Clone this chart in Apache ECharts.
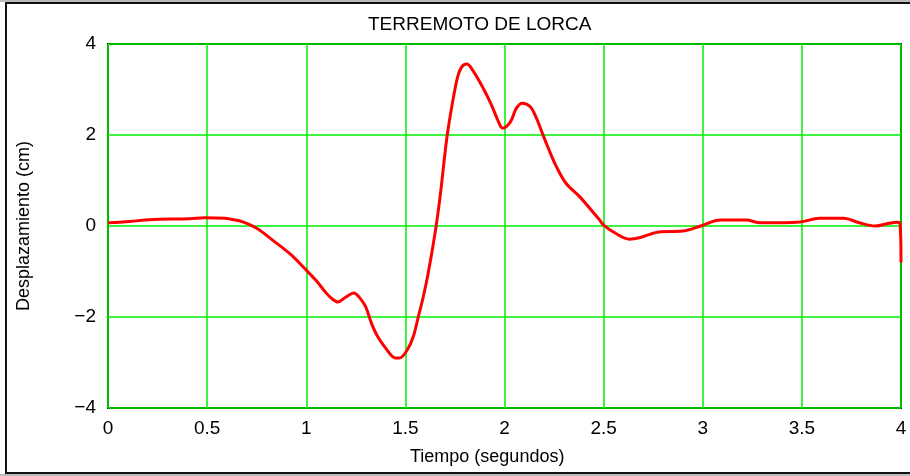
<!DOCTYPE html>
<html><head><meta charset="utf-8">
<script src="https://cdn.jsdelivr.net/npm/echarts@6/dist/echarts.min.js"></script>
<style>html,body{margin:0;padding:0;background:#fff}#c{width:910px;height:476px}</style>
</head><body><div id="c"></div>
<script>
const titleText = 'TERREMOTO DE LORCA';
const xName = 'Tiempo (segundos)';
const yName = 'Desplazamiento (cm)';
const timeS = [0.00,0.11,0.21,0.41,0.49,0.59,0.62,0.68,0.75,0.83,0.92,1.00,1.05,1.10,1.13,1.16,1.20,1.24,1.27,1.30,1.33,1.36,1.40,1.45,1.47,1.51,1.54,1.565,1.59,1.615,1.65,1.675,1.71,1.74,1.765,1.785,1.81,1.84,1.89,1.93,1.97,1.99,2.03,2.06,2.09,2.13,2.16,2.19,2.22,2.26,2.31,2.38,2.48,2.50,2.56,2.63,2.68,2.78,2.90,2.99,3.09,3.22,3.29,3.49,3.59,3.71,3.79,3.87,3.94,3.98,3.995,4.00];
const dispCm = [0.07,0.10,0.14,0.16,0.18,0.17,0.15,0.09,-0.05,-0.31,-0.62,-0.97,-1.20,-1.47,-1.60,-1.67,-1.56,-1.47,-1.58,-1.78,-2.15,-2.43,-2.68,-2.90,-2.90,-2.72,-2.43,-2.00,-1.56,-1.04,-0.15,0.64,1.96,2.77,3.30,3.50,3.56,3.42,3.05,2.70,2.29,2.15,2.29,2.59,2.70,2.62,2.38,2.05,1.72,1.32,0.94,0.64,0.13,0.02,-0.16,-0.29,-0.26,-0.13,-0.11,0.00,0.13,0.13,0.07,0.09,0.17,0.17,0.07,0.00,0.06,0.08,0.06,-0.80];
const series = timeS.map((t,i)=>[t,dispCm[i]]);
const font = 'Liberation Sans, Arial, sans-serif';
const chart = echarts.init(document.getElementById('c'), null, {renderer:'canvas'});
chart.setOption({
  animation:false,
  backgroundColor:'#fff',
  graphic:[
    {type:'rect', shape:{x:0,y:0,width:910,height:2}, style:{fill:'#bbb'}, z:-1},
    {type:'rect', shape:{x:0,y:474,width:910,height:2}, style:{fill:'#bbb'}, z:-1},
    {type:'rect', shape:{x:6,y:3,width:920,height:470}, style:{fill:'none',stroke:'#111',lineWidth:2}, z:10},
    {type:'text', left:368, top:15, style:{text:titleText, font:'19px '+font, fill:'#000'}},
    {type:'text', left:410, top:448, style:{text:xName, font:'18px '+font, fill:'#000'}},
    {type:'text', x:24, y:226, rotation:Math.PI/2, style:{text:yName, font:'18px '+font, fill:'#000', align:'center', verticalAlign:'middle'}}
  ],
  grid:{left:108,right:9,top:44,bottom:68,show:true,borderColor:'#002b00',borderWidth:2,containLabel:false},
  xAxis:{type:'value',min:0,max:4,interval:0.5,
    axisLine:{show:false},axisTick:{show:false},
    splitLine:{show:true,lineStyle:{color:'#00ee00',width:1.5}},
    axisLabel:{color:'#000',fontSize:19,fontFamily:font,margin:11,formatter:v=>String(v)}},
  yAxis:{type:'value',min:-4,max:4,interval:2,
    axisLine:{show:false},axisTick:{show:false},
    splitLine:{show:true,lineStyle:{color:'#00ee00',width:1.5}},
    axisLabel:{color:'#000',fontSize:19,fontFamily:font,margin:12,formatter:v=>String(v).replace('-','\u2212')}},
  series:[{type:'line',data:series,showSymbol:false,smooth:0.35,lineStyle:{color:'#ff0000',width:3},z:5}]
});
</script></body></html>
